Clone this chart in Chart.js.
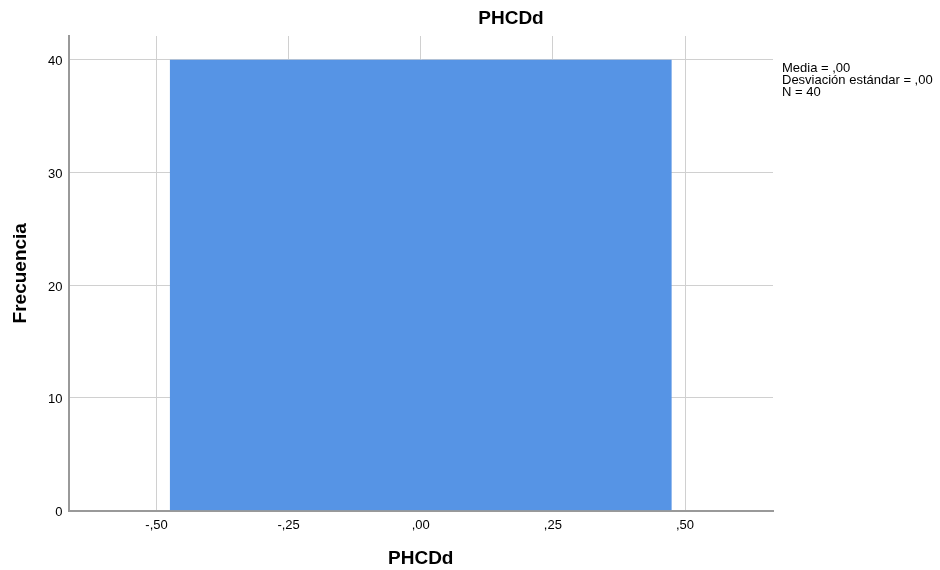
<!DOCTYPE html>
<html>
<head>
<meta charset="utf-8">
<script src="https://cdn.jsdelivr.net/npm/chart.js@4/dist/chart.umd.min.js"></script>
<style>
  html, body { margin: 0; padding: 0; background: #ffffff; }
  #wrap { width: 940px; height: 570px; position: relative; }
</style>
</head>
<body>
<div id="wrap"><canvas id="c" width="940" height="570"></canvas></div>
<script>
// ---- data ----
const chartTitle = "PHCDd";
const xAxisTitle = "PHCDd";
const yAxisTitle = "Frecuencia";
const binEdges = [-0.475, 0.475];     // histogram bin edges
const binCounts = [40];               // frequency per bin
const xTickValues = [-0.5, -0.25, 0, 0.25, 0.5];
const xTickLabels = ["-,50", "-,25", ",00", ",25", ",50"];
const yTickValues = [0, 10, 20, 30, 40];
const yTickLabels = ["0", "10", "20", "30", "40"];
const xRange = [-0.6665, 0.6665];
const yRange = [0, 42.1];
const statsLines = ["Media = ,00", "Desviación estándar = ,00", "N = 40"];

// build stepped outline from bin edges & counts
const histPoints = [];
binCounts.forEach((c, i) => {
  histPoints.push({ x: binEdges[i], y: c });
  histPoints.push({ x: binEdges[i + 1], y: c });
});

const FONT = "'Liberation Sans', Arial, sans-serif";

const textPlugin = {
  id: 'textPlugin',
  afterDraw(chart) {
    const ctx = chart.ctx;
    ctx.save();
    ctx.fillStyle = '#000';
    ctx.font = "bold 19px " + FONT;
    ctx.textAlign = 'center';
    ctx.textBaseline = 'middle';
    ctx.fillText(chartTitle, 511, 19);
    ctx.font = "13px " + FONT;
    ctx.textAlign = 'left';
    ctx.textBaseline = 'alphabetic';
    statsLines.forEach((t, i) => ctx.fillText(t, 782, 72 + i * 12));
    ctx.restore();
  }
};

new Chart(document.getElementById('c'), {
  type: 'line',
  data: {
    datasets: [{
      data: histPoints,
      borderWidth: 0,
      borderColor: 'rgba(0,0,0,0)',
      backgroundColor: '#5694e5',
      fill: 'origin',
      pointRadius: 0,
      tension: 0
    }]
  },
  options: {
    responsive: false,
    animation: false,
    layout: { padding: { top: 36, right: 167, left: 0, bottom: 0 } },
    plugins: {
      legend: { display: false },
      tooltip: { enabled: false },
      title: { display: false }
    },
    scales: {
      x: {
        type: 'linear',
        min: xRange[0],
        max: xRange[1],
        afterBuildTicks: s => { s.ticks = xTickValues.map(v => ({ value: v })); },
        afterFit: s => { s.height = 59.5; },
        ticks: {
          autoSkip: false,
          maxRotation: 0,
          padding: 7,
          color: '#000',
          font: { family: FONT, size: 13 },
          callback: (v) => { const i = xTickValues.indexOf(v); return i >= 0 ? xTickLabels[i] : ''; }
        },
        grid: { color: '#d0d0d0', lineWidth: 1, drawTicks: false },
        border: { color: '#999999', width: 2 },
        title: {
          display: true,
          text: xAxisTitle,
          color: '#000',
          font: { family: FONT, size: 19, weight: 'bold' },
          padding: { top: 0, bottom: 0 }
        }
      },
      y: {
        type: 'linear',
        min: yRange[0],
        max: yRange[1],
        afterBuildTicks: s => { s.ticks = yTickValues.map(v => ({ value: v })); },
        afterFit: s => { s.width = 68.5; },
        ticks: {
          autoSkip: false,
          padding: 6,
          labelOffset: 2,
          color: '#000',
          font: { family: FONT, size: 13 },
          callback: (v) => { const i = yTickValues.indexOf(v); return i >= 0 ? yTickLabels[i] : ''; }
        },
        grid: { color: '#d0d0d0', lineWidth: 1, drawTicks: false },
        border: { color: '#999999', width: 2 },
        title: {
          display: true,
          text: yAxisTitle,
          color: '#000',
          font: { family: FONT, size: 19, weight: 'bold' },
          padding: { top: 9, bottom: 0 }
        }
      }
    }
  },
  plugins: [textPlugin]
});
</script>
</body>
</html>
